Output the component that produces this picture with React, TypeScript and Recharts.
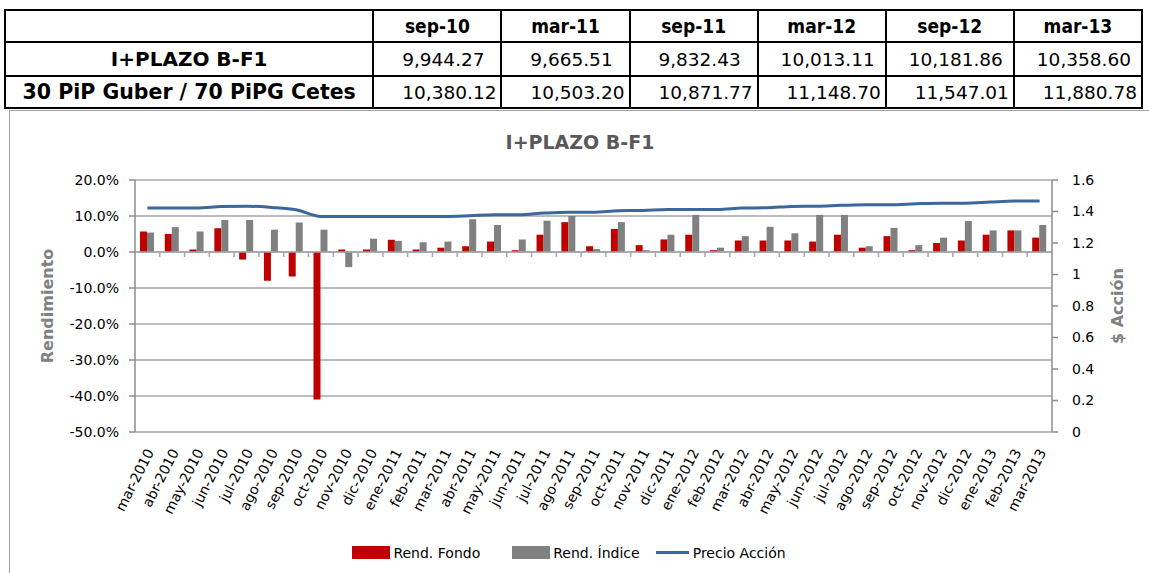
import React from 'react';
import {
  ComposedChart,
  Bar,
  Line,
  XAxis,
  YAxis,
  CartesianGrid,
  ReferenceLine,
  Legend,
} from 'recharts';

// table above the chart
const tableDates = ['sep-10', 'mar-11', 'sep-11', 'mar-12', 'sep-12', 'mar-13'];
const fundLabel = 'I+PLAZO B-F1';
const fundValues = ['9,944.27', '9,665.51', '9,832.43', '10,013.11', '10,181.86', '10,358.60'];
const benchLabel = '30 PiP Guber / 70 PiPG Cetes';
const benchValues = ['10,380.12', '10,503.20', '10,871.77', '11,148.70', '11,547.01', '11,880.78'];

// chart series
const months = [
  'mar-2010', 'abr-2010', 'may-2010', 'jun-2010', 'jul-2010', 'ago-2010', 'sep-2010', 'oct-2010',
  'nov-2010', 'dic-2010', 'ene-2011', 'feb-2011', 'mar-2011', 'abr-2011', 'may-2011', 'jun-2011',
  'jul-2011', 'ago-2011', 'sep-2011', 'oct-2011', 'nov-2011', 'dic-2011', 'ene-2012', 'feb-2012',
  'mar-2012', 'abr-2012', 'may-2012', 'jun-2012', 'jul-2012', 'ago-2012', 'sep-2012', 'oct-2012',
  'nov-2012', 'dic-2012', 'ene-2013', 'feb-2013', 'mar-2013',
];
const rendFondo = [
  5.7, 5.0, 0.7, 6.6, -2.1, -8.0, -6.8, -41.0, 0.7, 0.7, 3.4, 0.7, 1.2, 1.6, 2.9, 0.5, 4.8, 8.3, 1.6,
  6.4, 1.9, 3.5, 4.8, 0.5, 3.2, 3.2, 3.2, 2.9, 4.8, 1.2, 4.4, 0.5, 2.5, 3.2, 4.8, 6.0, 4.0,
];
const rendIndice = [
  5.4, 6.9, 5.7, 8.9, 8.9, 6.2, 8.2, 6.2, -4.2, 3.7, 3.1, 2.7, 2.9, 9.1, 7.5, 3.5, 8.7, 10.0, 0.8,
  8.3, 0.5, 4.8, 10.3, 1.2, 4.4, 7.0, 5.2, 10.3, 10.3, 1.6, 6.7, 1.9, 4.0, 8.6, 6.0, 6.0, 7.5,
];
const precioAccion = [
  1.422, 1.422, 1.422, 1.432, 1.434, 1.426, 1.411, 1.369, 1.369, 1.369, 1.369, 1.369, 1.369, 1.373,
  1.379, 1.379, 1.39, 1.396, 1.396, 1.405, 1.407, 1.413, 1.413, 1.413, 1.422, 1.424, 1.432, 1.434,
  1.439, 1.443, 1.443, 1.449, 1.453, 1.453, 1.46, 1.466, 1.466,
];
const leftTicks = [-50, -40, -30, -20, -10, 0, 10, 20];
const rightTicks = [0, 0.2, 0.4, 0.6, 0.8, 1, 1.2, 1.4, 1.6];

const data = months.map((m, i) => ({
  month: m,
  fondo: rendFondo[i],
  indice: rendIndice[i],
  precio: precioAccion[i],
}));

const chartFont = '"DejaVu Sans", Verdana, sans-serif';
const tableFont = '"DejaVu Sans", sans-serif';
const condFont = '"DejaVu Sans Condensed", "DejaVu Sans", sans-serif';

const AngledTick = (props: any) => {
  const { x, y, payload } = props;
  return (
    <g transform={`translate(${x + 7},${y + 12})`}>
      <text
        x={0}
        y={0}
        textAnchor="end"
        transform="rotate(-63)"
        fontSize={14}
        fontFamily={chartFont}
        fill="#000"
      >
        {payload.value}
      </text>
    </g>
  );
};

const renderLegend = () => (
  <div
    style={{
      display: 'flex',
      justifyContent: 'center',
      alignItems: 'center',
      height: 41,
      fontFamily: chartFont,
      fontSize: 14,
      color: '#000',
      paddingRight: 20,
    }}
  >
    <span style={{ width: 38, height: 13, background: '#c00000', marginRight: 3 }} />
    <span style={{ marginRight: 32 }}>Rend. Fondo</span>
    <span style={{ width: 38, height: 13, background: '#808080', marginRight: 3 }} />
    <span style={{ marginRight: 16 }}>Rend. Índice</span>
    <span style={{ width: 33, height: 3, background: '#3c679b', marginRight: 4 }} />
    <span>Precio Acción</span>
  </div>
);

const cell: React.CSSProperties = {
  border: '2px solid #000',
  padding: 0,
  fontFamily: tableFont,
  fontSize: 18.5,
  color: '#000',
  whiteSpace: 'nowrap',
  overflow: 'hidden',
};

export default function App() {
  return (
    <div
      style={{
        position: 'absolute',
        left: 0,
        top: 0,
        width: 1149,
        height: 573,
        overflow: 'hidden',
        background: '#fff',
      }}
    >
      <table
        style={{
          position: 'absolute',
          left: 4,
          top: 9,
          width: 1139,
          borderCollapse: 'collapse',
          tableLayout: 'fixed',
        }}
      >
        <colgroup>
          <col style={{ width: 368 }} />
          {tableDates.map((d) => (
            <col key={d} style={{ width: 128 }} />
          ))}
        </colgroup>
        <tbody>
          <tr style={{ height: 32 }}>
            <td style={cell} />
            {tableDates.map((d) => (
              <td
                key={d}
                style={{ ...cell, fontFamily: condFont, fontSize: 19, fontWeight: 'bold', textAlign: 'center' }}
              >
                {d}
              </td>
            ))}
          </tr>
          <tr style={{ height: 34 }}>
            <td style={{ ...cell, fontWeight: 'bold', textAlign: 'center', fontSize: 20 }}>{fundLabel}</td>
            {fundValues.map((v) => (
              <td key={v} style={{ ...cell, textAlign: 'center', paddingLeft: 12 }}>
                {v}
              </td>
            ))}
          </tr>
          <tr style={{ height: 32 }}>
            <td style={{ ...cell, fontWeight: 'bold', textAlign: 'center', fontSize: 20.5 }}>{benchLabel}</td>
            {benchValues.map((v) => (
              <td key={v} style={{ ...cell, textAlign: 'right', paddingRight: 4 }}>
                {v}
              </td>
            ))}
          </tr>
        </tbody>
      </table>

      <div
        style={{
          position: 'absolute',
          left: 9,
          top: 110,
          width: 1160,
          height: 480,
          border: '1px solid #a0a0a0',
        }}
      />

      <div
        style={{
          position: 'absolute',
          left: 9,
          top: 131,
          width: 1142,
          textAlign: 'center',
          fontFamily: chartFont,
          fontWeight: 'bold',
          fontSize: 19,
          color: '#595959',
        }}
      >
        I+PLAZO B-F1
      </div>

      <div style={{ position: 'absolute', left: 9, top: 110 }}>
        <ComposedChart
          width={1140}
          height={463}
          data={data}
          margin={{ top: 70, right: 10, left: 10, bottom: 0 }}
          barGap={0}
        >
          <CartesianGrid yAxisId="left" vertical={false} stroke="#a6a6a6" strokeWidth={1.5} />
          <XAxis
            dataKey="month"
            interval={0}
            height={100}
            axisLine={false}
            tickLine={false}
            tick={<AngledTick />}
          />
          <YAxis
            yAxisId="left"
            orientation="left"
            width={116}
            domain={[-50, 20]}
            ticks={leftTicks}
            tickFormatter={(v: number) => `${v.toFixed(1)}%`}
            tick={{ fill: '#000', fontSize: 14, fontFamily: chartFont }}
            tickSize={6}
            tickMargin={10}
            stroke="#8c8c8c"
            strokeWidth={1.5}
            label={{
              value: 'Rendimiento',
              angle: -90,
              position: 'insideLeft',
              offset: 28,
              style: {
                textAnchor: 'middle',
                fill: '#808080',
                fontWeight: 'bold',
                fontSize: 16,
                fontFamily: chartFont,
              },
            }}
          />
          <YAxis
            yAxisId="right"
            orientation="right"
            width={87}
            domain={[0, 1.6]}
            ticks={rightTicks}
            tickFormatter={(v: number) => String(v)}
            tick={{ fill: '#000', fontSize: 14, fontFamily: chartFont }}
            tickSize={6}
            tickMargin={14}
            stroke="#8c8c8c"
            strokeWidth={1.5}
            label={{
              value: '$ Acción',
              angle: -90,
              position: 'insideRight',
              offset: 22,
              style: {
                textAnchor: 'middle',
                fill: '#808080',
                fontWeight: 'bold',
                fontSize: 16,
                fontFamily: chartFont,
              },
            }}
          />
          <Legend content={renderLegend} verticalAlign="bottom" height={41} wrapperStyle={{ left: 0, width: 1140 }} />
          <ReferenceLine yAxisId="left" y={0} stroke="#a6a6a6" strokeWidth={1.5} />
          {months.slice(1).map((m) => (
            <ReferenceLine
              key={m}
              yAxisId="left"
              position="start"
              segment={[
                { x: m, y: 0 },
                { x: m, y: -1.4 },
              ]}
              stroke="#a6a6a6"
              strokeWidth={1.5}
            />
          ))}
          <Bar yAxisId="left" dataKey="fondo" name="Rend. Fondo" fill="#c00000" barSize={7} isAnimationActive={false} />
          <Bar yAxisId="left" dataKey="indice" name="Rend. Índice" fill="#808080" barSize={7} isAnimationActive={false} />
          <Line
            yAxisId="right"
            type="monotone"
            dataKey="precio"
            name="Precio Acción"
            stroke="#3c679b"
            strokeWidth={3}
            dot={false}
            isAnimationActive={false}
          />
        </ComposedChart>
      </div>
    </div>
  );
}
